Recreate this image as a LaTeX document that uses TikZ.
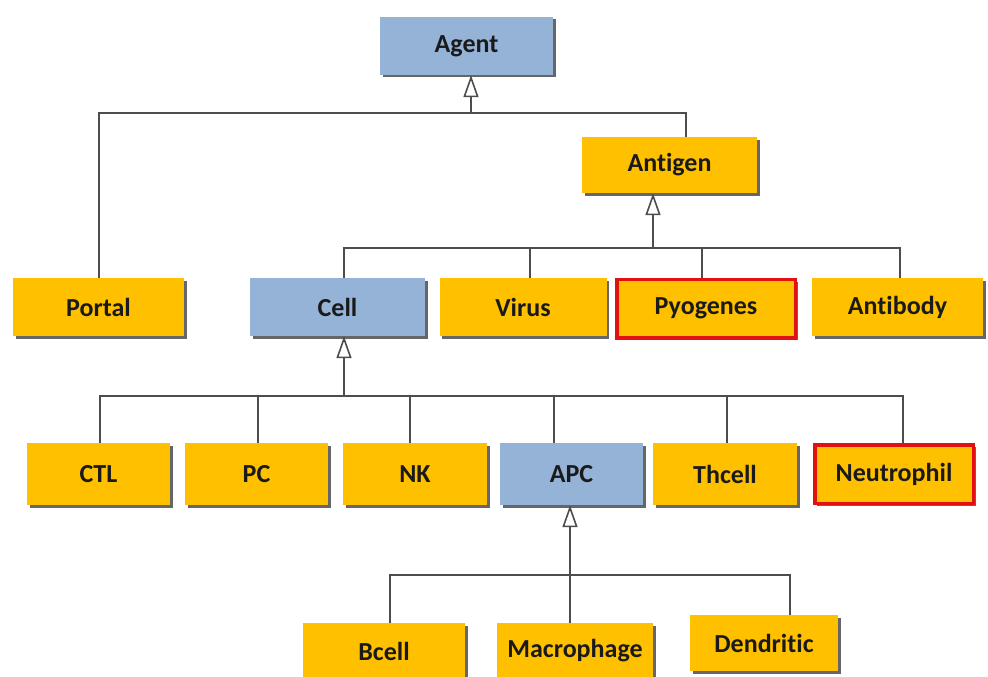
\documentclass[tikz,border=0pt]{standalone}
\usepackage{fontspec}
\setmainfont{Carlito}[Ligatures=NoCommon]
\usetikzlibrary{arrows.meta,shadows,calc}
\definecolor{gold}{HTML}{FFC000}
\definecolor{lblue}{HTML}{95B3D7}
\definecolor{edgec}{HTML}{4D4D4D}
\definecolor{redb}{HTML}{E31010}
\definecolor{txt}{HTML}{1A1A1A}
\tikzset{
  box/.style={rectangle, minimum height=58pt, inner sep=0pt,
    font=\fontsize{26}{30}\selectfont\bfseries, text=txt,
    drop shadow={shadow xshift=2.5pt, shadow yshift=-2.5pt, fill=black!60, opacity=1}},
  ybox/.style={box, fill=gold},
  bbox/.style={box, fill=lblue},
  rbox/.style={box, fill=gold, draw=redb, line width=3.5pt},
  conn/.style={draw=edgec, line width=2pt},
  inh/.style={conn, -{Triangle[open, width=15pt, length=22pt, line width=1.6pt]}},
}
\begin{document}
\begin{tikzpicture}[x=1pt,y=-1pt]
\useasboundingbox (0,0) rectangle (988,677);
\fill[white] (0,0) rectangle (988,677);

% level 0 / 1
\node[bbox, minimum width=173pt] (agent) at (466.5,46) {Agent};
\node[ybox, minimum width=175pt, minimum height=56pt] (antigen) at (669.5,165) {Antigen};

% level 2
\node[ybox, minimum width=171pt] (portal) at (98.5,307) {Portal};
\node[bbox, minimum width=175pt] (cell) at (337.5,307) {Cell};
\node[ybox, minimum width=167pt] (virus) at (523,307) {Virus};
\node[rbox, minimum width=178.5pt, minimum height=58.5pt] (pyo) at (706,308.5) {Pyogenes};
\node[ybox, minimum width=171pt] (antibody) at (897.5,307) {Antibody};

% level 3
\node[ybox, minimum width=143pt, minimum height=62pt] (ctl) at (98.5,474) {CTL};
\node[ybox, minimum width=143pt, minimum height=62pt] (pc) at (256.5,474) {PC};
\node[ybox, minimum width=144pt, minimum height=62pt] (nk) at (415,474) {NK};
\node[bbox, minimum width=143pt, minimum height=62pt] (apc) at (571.5,474) {APC};
\node[ybox, minimum width=144pt, minimum height=62pt] (thcell) at (725,474) {Thcell};
\node[rbox, minimum width=158.5pt, minimum height=58.5pt] (neutro) at (894,474) {Neutrophil};

% level 4
\node[ybox, minimum width=162pt, minimum height=56pt] (bcell) at (384,651) {Bcell};
\node[ybox, minimum width=156pt, minimum height=56pt] (macro) at (575,651) {Macrophage};
\node[ybox, minimum width=148pt, minimum height=56pt] (dend) at (764,643) {Dendritic};

% Agent hierarchy
\coordinate (bA) at (471,113);
\draw[inh] (bA) -- (bA |- agent.south);
\draw[conn] (portal.north) |- (bA);
\draw[conn] ([xshift=16pt]antigen.north) |- (bA);

% Antigen hierarchy
\coordinate (bB) at (653,248);
\draw[inh] (bB) -- (bB |- antigen.south);
\draw[conn] ([xshift=6.5pt]cell.north) |- (bB);
\draw[conn] ([xshift=7pt]virus.north) |- (bB);
\draw[conn] ([xshift=-4pt]pyo.north) |- (bB);
\draw[conn] ([xshift=2.5pt]antibody.north) |- (bB);

% Cell hierarchy
\coordinate (bC) at (344,396);
\draw[inh] (bC) -- (bC |- cell.south);
\draw[conn] ([xshift=1.5pt]ctl.north) |- (bC);
\draw[conn] ([xshift=1.5pt]pc.north) |- (bC);
\draw[conn] ([xshift=-5pt]nk.north) |- (bC);
\draw[conn] ([xshift=-17.5pt]apc.north) |- (bC);
\draw[conn] ([xshift=2pt]thcell.north) |- (bC);
\draw[conn] ([xshift=9pt]neutro.north) |- (bC);

% APC hierarchy
\coordinate (bD) at (570,575);
\draw[inh] (macro.north -| bD) -- (bD |- apc.south);
\draw[conn] ([xshift=6pt]bcell.north) |- (bD);
\draw[conn] ([xshift=26pt]dend.north) |- (bD);
\end{tikzpicture}
\end{document}
